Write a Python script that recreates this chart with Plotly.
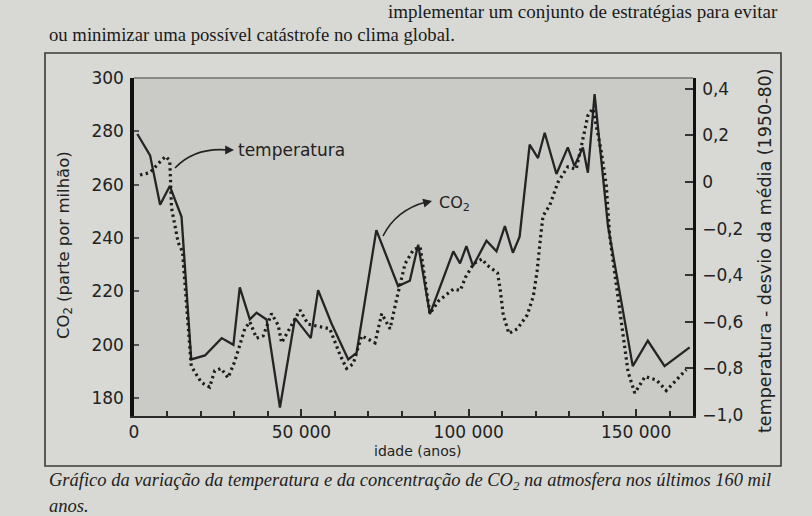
import plotly.graph_objects as go

# --- data -------------------------------------------------------------
co2_idade = [1000, 4800, 7800, 10700, 14200, 17100, 21200, 26200, 29700, 31600,
             34600, 36600, 39600, 43600, 48100, 52800, 55000, 59000, 64000, 66500,
             72400, 78900, 82400, 84900, 88400, 95400, 97400, 99300, 101300, 105300,
             108300, 110800, 113200, 115200, 118200, 120700, 122700, 126200, 129600,
             131600, 134100, 135600, 137600, 139100, 141600, 149000, 153500, 158500,
             166000]
co2_ppm = [279, 271, 252.5, 259.5, 248, 194.5, 196, 202.5, 200, 221.5,
           209.5, 212, 209.5, 176.5, 210, 202.5, 220.5, 208, 194.5, 197,
           243, 222, 224, 237.5, 211.5, 235, 230.5, 237, 229.5, 239,
           235, 244.5, 234.5, 240.5, 275, 270, 279.5, 264, 274,
           267, 274, 264.5, 294, 274.5, 244.5, 192, 201.5, 192,
           199]

temp_idade = [1800, 4800, 8000, 9500, 10700, 11200, 13200, 14500, 17100, 20100,
              22600, 24100, 26000, 28100, 30100, 33100, 34600, 36600, 38600, 41100,
              43100, 44100, 49600, 52000, 58500, 61500, 63500, 65500, 68000, 72000,
              74000, 76500, 78500, 81000, 83500, 85500, 88400, 91000, 95400, 97500,
              99000, 101500, 104000, 105300, 108600, 109400, 110300, 112000, 114500,
              117500, 119300, 120400, 121400, 122200, 124200, 126700, 129600, 132100,
              133600, 135600, 137100, 139600, 141100, 142100, 147600, 149600, 152700,
              156100, 159000, 165000]
temp_desvio = [0.03, 0.04, 0.09, 0.11, 0.09, -0.11, -0.26, -0.30, -0.79, -0.86,
               -0.88, -0.81, -0.80, -0.84, -0.77, -0.63, -0.60, -0.67, -0.66, -0.565,
               -0.615, -0.69, -0.55, -0.61, -0.63, -0.74, -0.80, -0.78, -0.66, -0.69,
               -0.565, -0.63, -0.50, -0.35, -0.29, -0.28, -0.565, -0.51, -0.46, -0.465,
               -0.41, -0.35, -0.33, -0.355, -0.39, -0.46, -0.57, -0.65, -0.63,
               -0.57, -0.49, -0.385, -0.245, -0.145, -0.10, 0.0, 0.065, 0.055,
               0.15, 0.285, 0.315, 0.13, -0.015, -0.23, -0.815, -0.905, -0.835,
               -0.85, -0.895, -0.805]

x_ticks = [0, 50000, 100000, 150000]
x_labels = ["0", "50 000", "100 000", "150 000"]
co2_ticks = [180, 200, 220, 240, 260, 280, 300]
temp_ticks = [-1.0, -0.8, -0.6, -0.4, -0.2, 0, 0.2, 0.4]
temp_labels = ["−1,0", "−0,8", "−0,6", "−0,4", "−0,2", "0", "0,2", "0,4"]

# --- page geometry (pixels) -------------------------------------------
W, H = 812, 516
L, R, T, B = 134, 693, 78, 416


def fx(px):
    return (px - L) / (R - L)


def fy(py):
    return (B - py) / (B - T)


SANS = "DejaVu Sans"
SERIF = "Liberation Serif"
INK = "#222222"

fig = go.Figure()

fig.add_trace(go.Scatter(
    x=temp_idade, y=temp_desvio, yaxis="y2", mode="lines",
    line=dict(color="#1c1c1c", width=3.2, dash="2.4px,3.4px"),
    hoverinfo="skip", showlegend=False))

fig.add_trace(go.Scatter(
    x=co2_idade, y=co2_ppm, mode="lines",
    line=dict(color="#242424", width=2.3),
    hoverinfo="skip", showlegend=False))

tickfont = dict(family=SANS, size=17, color="#222222")

fig.update_layout(
    width=W, height=H,
    margin=dict(l=L, r=W - R, t=T, b=H - B),
    paper_bgcolor="#d8d9d4",
    plot_bgcolor="#cacbc6",
    showlegend=False,
    xaxis=dict(
        range=[0, 167000], tickvals=x_ticks, ticktext=x_labels,
        showgrid=False, zeroline=False,
        showline=True, linecolor="#2a2a2a", linewidth=2,
        ticks="inside", ticklen=7, tickwidth=2, tickcolor="#2a2a2a",
        minor=dict(ticks="inside", dtick=10000, ticklen=5, tickwidth=1.6,
                   tickcolor="#2a2a2a", showgrid=False),
        tickfont=tickfont, ticklabelstandoff=0,
    ),
    yaxis=dict(
        range=[173.3, 300], tickvals=co2_ticks,
        showgrid=False, zeroline=False,
        showline=True, linecolor="#111", linewidth=3.5,
        ticks="inside", ticklen=5, tickwidth=1.5, tickcolor="#555",
        tickfont=tickfont, ticklabelstandoff=3,
    ),
    yaxis2=dict(
        range=[-1.004, 0.446], tickvals=temp_ticks, ticktext=temp_labels,
        overlaying="y", side="right",
        showgrid=False, zeroline=False,
        showline=True, linecolor="#111", linewidth=2.5,
        ticks="inside", ticklen=8, tickwidth=2, tickcolor="#333",
        tickfont=tickfont, ticklabelstandoff=3,
    ),
)

shapes = [
    # outer frame around the figure block
    dict(type="rect", xref="paper", yref="paper",
         x0=fx(45), x1=fx(781), y0=fy(466), y1=fy(53),
         line=dict(color="#3a3a3a", width=1.6), layer="below"),
    # thin grey top border of the plotting area
    dict(type="line", xref="paper", yref="paper",
         x0=0, x1=1, y0=1, y1=1,
         line=dict(color="#8a8a86", width=2)),
    # curved leader for "temperatura"
    dict(type="path", xref="paper", yref="paper",
         path=f"M {fx(175)},{fy(168)} Q {fx(195)},{fy(147)} {fx(228)},{fy(150)}",
         line=dict(color=INK, width=1.6)),
    # curved leader for "CO2"
    dict(type="path", xref="paper", yref="paper",
         path=f"M {fx(383)},{fy(236)} Q {fx(396)},{fy(210)} {fx(426)},{fy(202)}",
         line=dict(color=INK, width=1.6)),
]
fig.update_layout(shapes=shapes)

annotations = [
    # arrow heads
    dict(x=fx(234), y=fy(150), xref="paper", yref="paper", text="",
         showarrow=True, arrowhead=2, arrowsize=1.1, arrowwidth=1.6,
         arrowcolor=INK, ax=-8, ay=0),
    dict(x=fx(432), y=fy(201), xref="paper", yref="paper", text="",
         showarrow=True, arrowhead=2, arrowsize=1.1, arrowwidth=1.6,
         arrowcolor=INK, ax=-8, ay=2),
    # series labels
    dict(x=fx(236), y=fy(150), xref="paper", yref="paper", text="temperatura",
         showarrow=False, xanchor="left", yanchor="middle",
         font=dict(family=SANS, size=17, color=INK)),
    dict(x=fx(437), y=fy(203), xref="paper", yref="paper", text="CO<sub>2</sub>",
         showarrow=False, xanchor="left", yanchor="middle",
         font=dict(family=SANS, size=16, color=INK)),
    # axis titles
    dict(x=fx(418), y=fy(451), xref="paper", yref="paper", text="idade (anos)",
         showarrow=False, xanchor="center", yanchor="middle",
         font=dict(family=SANS, size=14, color=INK)),
    dict(x=fx(64), y=fy(245), xref="paper", yref="paper",
         text="CO<sub>2</sub> (parte por milhão)", textangle=-90,
         showarrow=False, xanchor="center", yanchor="middle",
         font=dict(family=SANS, size=16.5, color=INK)),
    dict(x=fx(765), y=fy(251), xref="paper", yref="paper",
         text="temperatura - desvio da média (1950-80)", textangle=-90,
         showarrow=False, xanchor="center", yanchor="middle",
         font=dict(family=SANS, size=17.5, color=INK)),
    # caption
    dict(x=fx(47), y=fy(482), xref="paper", yref="paper",
         text="<i>Gráfico da variação da temperatura e da concentração de "
              "CO<sub>2</sub> na atmosfera nos últimos 160 mil</i>",
         showarrow=False, xanchor="left", yanchor="middle",
         font=dict(family=SERIF, size=18.5, color="#1e1e1e")),
    dict(x=fx(47), y=fy(506), xref="paper", yref="paper", text="<i>anos.</i>",
         showarrow=False, xanchor="left", yanchor="middle",
         font=dict(family=SERIF, size=18.5, color="#1e1e1e")),
    # running text of the page above the figure
    dict(x=fx(780), y=fy(11), xref="paper", yref="paper",
         text="implementar um conjunto de estratégias para evitar",
         showarrow=False, xanchor="right", yanchor="middle",
         font=dict(family=SERIF, size=19, color="#1a1a1a")),
    dict(x=fx(47), y=fy(35), xref="paper", yref="paper",
         text="ou minimizar uma possível catástrofe no clima global.",
         showarrow=False, xanchor="left", yanchor="middle",
         font=dict(family=SERIF, size=18.7, color="#1a1a1a")),
]
fig.update_layout(annotations=annotations)

fig.write_html("out.html")
